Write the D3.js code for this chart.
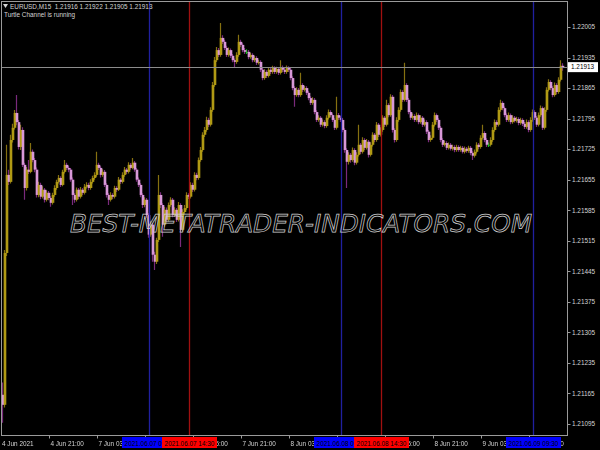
<!DOCTYPE html>
<html><head><meta charset="utf-8">
<script src="https://cdn.jsdelivr.net/npm/d3@7"></script>
<style>html,body{margin:0;padding:0;background:#000;}svg{display:block;}</style>
</head><body>
<svg id="c" width="600" height="450"></svg>
<script>
const symbolTitle = "EURUSD,M15";
const indicatorName = "Turtle Channel is running";
const watermark = "BEST-METATRADER-INDICATORS.COM";
const firstOpen = 1.21162;
const closes = [
1.21139,1.21487,1.21666,1.21650,1.21746,1.21774,1.21808,1.21787,1.21730,1.21769,
1.21689,1.21636,1.21678,1.21673,1.21719,1.21700,1.21678,1.21620,1.21643,1.21616,
1.21632,1.21609,1.21625,1.21613,1.21602,1.21620,1.21636,1.21650,1.21659,1.21643,
1.21673,1.21689,1.21682,1.21678,1.21655,1.21620,1.21609,1.21632,1.21616,1.21632,
1.21625,1.21639,1.21643,1.21636,1.21650,1.21659,1.21666,1.21689,1.21682,1.21666,
1.21673,1.21643,1.21620,1.21609,1.21620,1.21616,1.21636,1.21632,1.21655,1.21650,
1.21666,1.21678,1.21673,1.21689,1.21682,1.21694,1.21678,1.21655,1.21643,1.21620,
1.21597,1.21609,1.21574,1.21529,1.21552,1.21483,1.21467,1.21517,1.21620,1.21597,
1.21552,1.21586,1.21563,1.21597,1.21609,1.21574,1.21586,1.21563,1.21597,1.21540,
1.21581,1.21590,1.21620,1.21616,1.21643,1.21632,1.21666,1.21659,1.21700,1.21723,
1.21758,1.21769,1.21792,1.21781,1.21815,1.21872,1.21929,1.21952,1.21941,1.21980,
1.21971,1.21957,1.21941,1.21952,1.21939,1.21929,1.21925,1.21941,1.21971,1.21964,
1.21952,1.21948,1.21948,1.21936,1.21941,1.21929,1.21934,1.21923,1.21925,1.21907,
1.21888,1.21902,1.21893,1.21907,1.21902,1.21911,1.21902,1.21909,1.21900,1.21913,
1.21907,1.21902,1.21911,1.21907,1.21888,1.21865,1.21849,1.21861,1.21849,1.21872,
1.21861,1.21865,1.21854,1.21842,1.21831,1.21838,1.21810,1.21792,1.21797,1.21781,
1.21787,1.21778,1.21797,1.21810,1.21803,1.21792,1.21774,1.21803,1.21797,1.21792,
1.21769,1.21723,1.21696,1.21712,1.21700,1.21723,1.21694,1.21712,1.21735,1.21719,
1.21746,1.21728,1.21742,1.21712,1.21735,1.21758,1.21746,1.21781,1.21758,1.21769,
1.21797,1.21781,1.21826,1.21803,1.21845,1.21769,1.21746,1.21792,1.21815,1.21856,
1.21838,1.21872,1.21838,1.21810,1.21797,1.21801,1.21792,1.21803,1.21787,1.21797,
1.21781,1.21787,1.21765,1.21746,1.21751,1.21781,1.21803,1.21792,1.21774,1.21746,
1.21735,1.21739,1.21728,1.21735,1.21726,1.21730,1.21723,1.21730,1.21723,1.21728,
1.21719,1.21726,1.21721,1.21728,1.21716,1.21710,1.21719,1.21735,1.21730,1.21751,
1.21762,1.21746,1.21735,1.21735,1.21746,1.21769,1.21787,1.21781,1.21815,1.21831,
1.21819,1.21803,1.21792,1.21803,1.21787,1.21797,1.21790,1.21794,1.21785,1.21792,
1.21783,1.21776,1.21787,1.21769,1.21792,1.21810,1.21797,1.21781,1.21803,1.21819,
1.21774,1.21815,1.21861,1.21879,1.21865,1.21849,1.21872,1.21856,1.21884,1.21916,
1.21913];
const highs = [
1.21190,1.21494,1.21735,1.21678,1.21758,1.21783,1.21815,1.21849,1.21792,1.21781,
1.21775,1.21694,1.21684,1.21700,1.21739,1.21724,1.21705,1.21683,1.21650,1.21648,
1.21640,1.21636,1.21631,1.21629,1.21617,1.21625,1.21642,1.21655,1.21666,1.21663,
1.21678,1.21700,1.21694,1.21687,1.21682,1.21660,1.21624,1.21637,1.21636,1.21638,
1.21636,1.21645,1.21649,1.21648,1.21656,1.21664,1.21672,1.21719,1.21694,1.21686,
1.21679,1.21677,1.21647,1.21624,1.21626,1.21624,1.21641,1.21640,1.21661,1.21659,
1.21672,1.21684,1.21682,1.21695,1.21693,1.21705,1.21698,1.21682,1.21660,1.21647,
1.21624,1.21615,1.21613,1.21578,1.21560,1.21556,1.21490,1.21522,1.21666,1.21626,
1.21601,1.21593,1.21591,1.21603,1.21615,1.21613,1.21592,1.21590,1.21604,1.21601,
1.21587,1.21597,1.21626,1.21624,1.21649,1.21648,1.21672,1.21671,1.21706,1.21730,
1.21764,1.21776,1.21799,1.21797,1.21821,1.21879,1.21936,1.21959,1.21957,1.22014,
1.21986,1.21976,1.21962,1.21958,1.21956,1.21943,1.21933,1.21947,1.21987,1.21976,
1.21968,1.21957,1.21954,1.21952,1.21946,1.21945,1.21939,1.21938,1.21930,1.21929,
1.21911,1.21908,1.21906,1.21913,1.21911,1.21916,1.21915,1.21914,1.21913,1.21929,
1.21917,1.21911,1.21917,1.21915,1.21911,1.21892,1.21869,1.21867,1.21865,1.21900,
1.21876,1.21870,1.21869,1.21858,1.21846,1.21844,1.21842,1.21814,1.21803,1.21801,
1.21793,1.21791,1.21803,1.21816,1.21814,1.21807,1.21796,1.21845,1.21808,1.21801,
1.21796,1.21773,1.21727,1.21718,1.21716,1.21729,1.21727,1.21718,1.21781,1.21739,
1.21752,1.21750,1.21748,1.21746,1.21741,1.21764,1.21762,1.21787,1.21785,1.21775,
1.21803,1.21801,1.21838,1.21830,1.21851,1.21849,1.21773,1.21798,1.21821,1.21862,
1.21860,1.21923,1.21876,1.21842,1.21814,1.21807,1.21805,1.21809,1.21807,1.21803,
1.21801,1.21793,1.21791,1.21769,1.21757,1.21787,1.21809,1.21807,1.21796,1.21778,
1.21750,1.21744,1.21743,1.21740,1.21739,1.21735,1.21734,1.21735,1.21734,1.21733,
1.21732,1.21731,1.21730,1.21733,1.21732,1.21720,1.21724,1.21741,1.21739,1.21757,
1.21781,1.21766,1.21750,1.21740,1.21752,1.21775,1.21793,1.21791,1.21821,1.21838,
1.21835,1.21823,1.21807,1.21809,1.21807,1.21803,1.21801,1.21799,1.21798,1.21797,
1.21796,1.21787,1.21793,1.21791,1.21798,1.21816,1.21814,1.21801,1.21809,1.21825,
1.21823,1.21821,1.21867,1.21885,1.21883,1.21869,1.21878,1.21876,1.21890,1.21929,
1.21922];
const lows = [
1.21098,1.21133,1.21480,1.21643,1.21646,1.21740,1.21770,1.21780,1.21724,1.21723,
1.21684,1.21609,1.21630,1.21668,1.21670,1.21695,1.21672,1.21614,1.21615,1.21610,
1.21612,1.21603,1.21605,1.21608,1.21593,1.21598,1.21616,1.21632,1.21646,1.21638,
1.21640,1.21669,1.21677,1.21672,1.21650,1.21597,1.21602,1.21605,1.21611,1.21612,
1.21620,1.21621,1.21635,1.21631,1.21632,1.21646,1.21655,1.21662,1.21677,1.21660,
1.21662,1.21638,1.21614,1.21597,1.21605,1.21611,1.21612,1.21627,1.21629,1.21645,
1.21646,1.21662,1.21668,1.21669,1.21678,1.21679,1.21673,1.21650,1.21638,1.21615,
1.21590,1.21592,1.21568,1.21522,1.21524,1.21467,1.21448,1.21462,1.21512,1.21590,
1.21524,1.21547,1.21557,1.21559,1.21593,1.21569,1.21570,1.21558,1.21559,1.21501,
1.21536,1.21577,1.21586,1.21611,1.21612,1.21627,1.21628,1.21654,1.21655,1.21696,
1.21719,1.21753,1.21765,1.21776,1.21777,1.21811,1.21868,1.21925,1.21936,1.21937,
1.21966,1.21952,1.21936,1.21937,1.21934,1.21924,1.21913,1.21921,1.21937,1.21959,
1.21947,1.21943,1.21943,1.21931,1.21932,1.21924,1.21925,1.21918,1.21919,1.21902,
1.21883,1.21884,1.21888,1.21889,1.21897,1.21898,1.21897,1.21898,1.21895,1.21896,
1.21902,1.21897,1.21898,1.21902,1.21883,1.21860,1.21822,1.21845,1.21844,1.21845,
1.21856,1.21857,1.21849,1.21837,1.21826,1.21827,1.21805,1.21787,1.21788,1.21776,
1.21777,1.21773,1.21774,1.21793,1.21798,1.21787,1.21769,1.21770,1.21792,1.21787,
1.21764,1.21717,1.21636,1.21690,1.21694,1.21696,1.21688,1.21690,1.21708,1.21714,
1.21715,1.21723,1.21724,1.21706,1.21708,1.21731,1.21741,1.21742,1.21753,1.21754,
1.21765,1.21776,1.21777,1.21798,1.21799,1.21763,1.21740,1.21742,1.21788,1.21811,
1.21833,1.21834,1.21833,1.21805,1.21792,1.21793,1.21787,1.21788,1.21782,1.21783,
1.21776,1.21777,1.21760,1.21741,1.21742,1.21747,1.21777,1.21787,1.21769,1.21741,
1.21730,1.21731,1.21723,1.21724,1.21722,1.21722,1.21718,1.21719,1.21719,1.21719,
1.21715,1.21715,1.21717,1.21717,1.21711,1.21700,1.21706,1.21715,1.21725,1.21726,
1.21747,1.21741,1.21730,1.21730,1.21731,1.21742,1.21765,1.21776,1.21777,1.21811,
1.21814,1.21798,1.21787,1.21788,1.21782,1.21783,1.21786,1.21786,1.21780,1.21781,
1.21778,1.21771,1.21772,1.21764,1.21765,1.21788,1.21792,1.21776,1.21777,1.21799,
1.21769,1.21770,1.21811,1.21857,1.21860,1.21844,1.21845,1.21851,1.21852,1.21880,
1.21905];
const priceTicks = [1.22005,1.21935,1.21865,1.21795,1.21725,1.21655,1.21585,1.21515,1.21445,1.21375,1.21305,1.21235,1.21165,1.21095];
const timeTickIdx = [0,23,47,71,95,119,143,167,191,215,239,263];
const timeLabels = ["4 Jun 2021","4 Jun 21:00","7 Jun 03:00","7 Jun 09:00","7 Jun 15:00","7 Jun 21:00","8 Jun 03:00","8 Jun 09:00","8 Jun 15:00","8 Jun 21:00","9 Jun 03:00","9 Jun 09:00"];
const vlineIdx = [73,169,265,93,189];
const vlineKind = ["blue","blue","blue","red","red"];
const vlineLabels = ["2021.06.07 09:30","2021.06.08 09:30","2021.06.09 09:30","2021.06.07 14:30","2021.06.08 14:30"];

const opens = closes.map((c,i)=> i===0 ? firstOpen : closes[i-1]);
const bars = closes.map((c,i)=>({i, o:opens[i], h:highs[i], l:lows[i], c}));

const svg = d3.select("#c");
const FONT = "'Liberation Sans', Arial, sans-serif";
const FS = 6.4;
const TXT = "#d4d4d4";
const L=1.5, T=1.5, R=567.5, B=435.5;
const BOXW = 55, BOXY = 437, BOXH = 11;

const x = d3.scaleLinear().domain([0, 280]).range([3, 563]);
const y = d3.scaleLinear().domain([1.21095, 1.22005]).range([424, 27]);
const fmt = d3.format(".5f");

svg.append("rect").attr("width",600).attr("height",450).attr("fill","#000");
const defs = svg.append("defs");
defs.append("clipPath").attr("id","plot")
  .append("rect").attr("x",L).attr("y",T).attr("width",R-L).attr("height",B-T);

const g = svg.append("g").attr("clip-path","url(#plot)");

const bullBody="#b09a14", bearBody="#d898d8", bullWick="#857010", bearWick="#7a2a7c", dojiCol="#1fb21f";
function kind(d){ return d.c>d.o ? "bull" : (d.c<d.o ? "bear" : "doji"); }

g.append("g").selectAll("line").data(bars).join("line")
  .attr("x1",d=>x(d.i)-0.5).attr("x2",d=>x(d.i)-0.5)
  .attr("y1",d=>y(d.h)).attr("y2",d=>y(d.l))
  .attr("stroke",d=>{const k=kind(d);return k==="bull"?bullWick:(k==="bear"?bearWick:dojiCol);})
  .attr("stroke-width",1.2);

g.append("g").selectAll("rect").data(bars).join("rect")
  .attr("x",d=>x(d.i)-1.3).attr("width",2.6)
  .attr("y",d=>y(Math.max(d.o,d.c)))
  .attr("height",d=>Math.max(1, Math.abs(y(d.o)-y(d.c))))
  .attr("fill",d=>{const k=kind(d);return k==="bull"?bullBody:(k==="bear"?bearBody:dojiCol);});

// vertical lines
g.append("g").selectAll("line").data(vlineIdx).join("line")
  .attr("x1",d=>Math.round(x(d))+0.5).attr("x2",d=>Math.round(x(d))+0.5)
  .attr("y1",T).attr("y2",B)
  .attr("stroke",(d,i)=>vlineKind[i]==="blue"?"#2020a0":"#a01010").attr("stroke-width",1.3);

// current price line
const last = bars[bars.length-1];
g.append("line").attr("x1",L).attr("x2",R)
  .attr("y1",Math.round(y(last.c))+0.5).attr("y2",Math.round(y(last.c))+0.5)
  .attr("stroke","#8c8c8c").attr("stroke-width",1);

// watermark
svg.append("text").attr("x",70).attr("y",232)
  .attr("textLength",462).attr("lengthAdjust","spacingAndGlyphs")
  .attr("font-family","'DejaVu Sans', sans-serif").attr("font-style","italic")
  .attr("font-size",25.5).attr("fill","none").attr("stroke","#cfcfcf").attr("stroke-width",0.75)
  .text(watermark);

// border
svg.append("rect").attr("x",L).attr("y",T).attr("width",R-L).attr("height",B-T)
  .attr("fill","none").attr("stroke","#9a9a9a").attr("stroke-width",1);

// right price axis
const ra = svg.append("g");
ra.selectAll("line").data(priceTicks).join("line")
  .attr("x1",R).attr("x2",R+3).attr("y1",d=>Math.round(y(d))+0.5).attr("y2",d=>Math.round(y(d))+0.5)
  .attr("stroke","#9a9a9a");
ra.selectAll("text").data(priceTicks).join("text")
  .attr("x",572).attr("y",d=>y(d)+2.3)
  .attr("font-family",FONT).attr("font-size",FS).attr("fill",TXT)
  .text(d=>fmt(d));

// current price box
const py = y(last.c);
svg.append("rect").attr("x",568).attr("y",py-5).attr("width",30).attr("height",10).attr("fill","#fff");
svg.append("text").attr("x",571).attr("y",py+2.3).attr("font-family",FONT).attr("font-size",FS)
  .attr("fill","#000").text(fmt(last.c));

// box geometry for line labels
const boxes = vlineIdx.map((d,i)=>{ const cx = Math.round(x(d))+0.5; return {cx, x0:cx-BOXW/2, x1:cx+BOXW/2, kind:vlineKind[i], label:vlineLabels[i], order:i}; });
const redBoxes = boxes.filter(b=>b.kind==="red");

// mask hiding axis text under boxes
const mAxis = defs.append("mask").attr("id","maskAxis").attr("maskUnits","userSpaceOnUse")
  .attr("x",0).attr("y",0).attr("width",600).attr("height",450);
mAxis.append("rect").attr("width",600).attr("height",450).attr("fill","#fff");
boxes.forEach(b=> mAxis.append("rect").attr("x",b.x0).attr("y",BOXY).attr("width",BOXW).attr("height",BOXH).attr("fill","#000"));

// bottom time axis
const ba = svg.append("g");
ba.selectAll("line").data(timeTickIdx.slice(1)).join("line")
  .attr("x1",d=>Math.round(x(d))+0.5).attr("x2",d=>Math.round(x(d))+0.5)
  .attr("y1",B).attr("y2",B+3).attr("stroke","#9a9a9a");
const labelW = 34;
const visibleTicks = timeTickIdx.map((d,i)=>({d,i,x0:i===0?2:Math.round(x(d))+1.5}))
  .filter(t=> !boxes.some(b=> t.x0>=b.x0 && t.x0+labelW<=b.x1+3));
ba.append("g").attr("mask","url(#maskAxis)").selectAll("text").data(visibleTicks).join("text")
  .attr("x",t=>t.x0).attr("y",445.5)
  .attr("font-family",FONT).attr("font-size",FS).attr("fill",TXT)
  .text(t=>timeLabels[t.i]);

// line labels on time axis (blue first, red on top)
const lb = svg.append("g");
boxes.forEach(b=>{
  const grp = lb.append("g");
  grp.append("rect").attr("x",b.x0).attr("y",BOXY).attr("width",BOXW).attr("height",BOXH)
    .attr("fill",b.kind==="blue"?"#0000ff":"#ff0000");
  const covering = b.kind==="blue" ? redBoxes.filter(r=> r.x0 < b.x1 && r.x1 > b.x0) : [];
  let tgt = grp;
  if (covering.length){
    const cid = "clipBox"+b.order;
    const cr = covering[0];
    defs.append("clipPath").attr("id",cid).append("rect")
      .attr("x",b.x0).attr("y",BOXY).attr("width",cr.x0-b.x0).attr("height",BOXH);
    tgt = grp.append("g").attr("clip-path","url(#"+cid+")");
  }
  tgt.append("text").attr("x",b.cx).attr("y",445.5).attr("text-anchor","middle")
    .attr("font-family",FONT).attr("font-size",FS).attr("fill","#000").text(b.label);
});

// header texts
svg.append("path").attr("d","M3,4 L8,4 L5.5,8 Z").attr("fill",TXT);
svg.append("text").attr("x",10).attr("y",8.5).attr("xml:space","preserve")
  .attr("font-family",FONT).attr("font-size",FS).attr("fill",TXT)
  .text(symbolTitle + "  " + [last.o,last.h,last.l,last.c].map(fmt).join(" "));
svg.append("text").attr("x",4).attr("y",17)
  .attr("font-family",FONT).attr("font-size",FS).attr("fill",TXT)
  .text(indicatorName);
</script>
</body></html>
